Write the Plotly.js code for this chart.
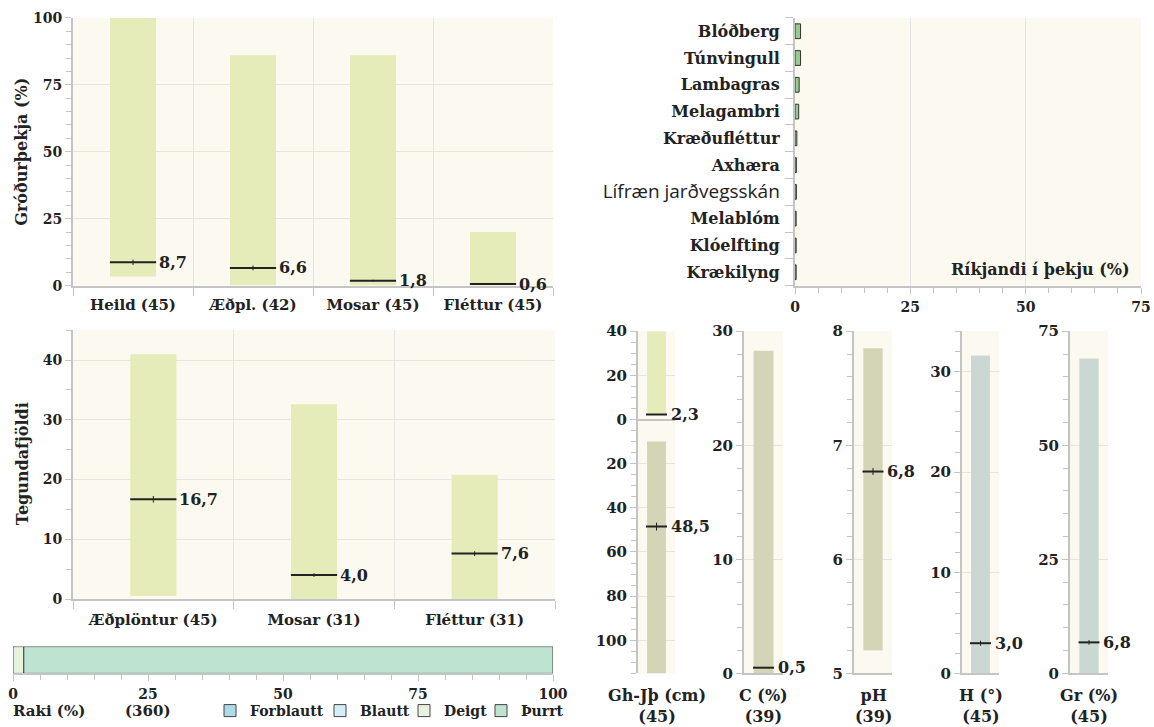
<!DOCTYPE html>
<html><head><meta charset="utf-8">
<script src="https://cdn.plot.ly/plotly-3.0.1.min.js"></script>
<style>html,body{margin:0;padding:0;background:#fff}#chart{width:1154px;height:727px}</style>
</head><body><div id="chart"></div>
<script>
// ---------- DATA ----------
// Gróðurþekja (%)
const coverCats = ['Heild (45)', 'Æðpl. (42)', 'Mosar (45)', 'Fléttur (45)'];
const coverLow  = [3.4, 0, 0, 0];
const coverHigh = [100, 86, 86, 20];
const coverMean = [8.7, 6.6, 1.8, 0.6];
const coverSE   = [1.0, 0.9, 0.4, 0.1];

// Ríkjandi í þekju (%)
const domCats = ['Blóðberg','Túnvingull','Lambagras','Melagambri','Kræðufléttur','Axhæra','Lífræn jarðvegsskán','Melablóm','Klóelfting','Krækilyng'];
const domVals = [1.2, 1.2, 0.9, 0.8, 0.4, 0.3, 0.3, 0.25, 0.25, 0.25];
const domTicks = [0, 25, 50, 75];

// Tegundafjöldi
const richCats = ['Æðplöntur (45)', 'Mosar (31)', 'Fléttur (31)'];
const richLow  = [0.5, 0, 0];
const richHigh = [41, 32.6, 20.8];
const richMean = [16.7, 4.0, 7.6];
const richSE   = [0.55, 0.3, 0.4];

// Raki (%)
const moistCats = ['Forblautt', 'Blautt', 'Deigt', 'Þurrt'];
const moistVals = [0, 0, 2, 98];
const moistN = 360;

// Jarðvegur
const ghLabel = 'Gh-Jþ (cm)', ghN = 45;
const ghLow = 2.5, ghHigh = 40, ghMean = 2.3, ghSE = 0;        // gróðurhæð (upp)
const jpLow = 10, jpHigh = 115, jpMean = 48.5, jpSE = 1.8;       // jarðvegsþykkt (niður)
const ghTickVals = [40, 20, 0, -20, -40, -60, -80, -100];

const soilLabels = ['C (%)', 'pH', 'H (°)', 'Gr (%)'];
const soilN      = [39, 39, 45, 45];
const soilLow    = [0, 5.2, 0, 0];
const soilHigh   = [28.3, 7.85, 31.6, 69];
const soilMean   = [0.5, 6.77, 3.0, 6.8];
const soilSE     = [0, 0.03, 0.25, 0.5];
const soilRange  = [[0, 30], [5, 8], [0, 34], [0, 75]];
const soilDtick  = [10, 1, 10, 25];
const soilMinor  = [2, 0.2, 2, 5];

// ---------- STYLE ----------
const W = 1154, H = 727;
const px = v => v / W;
const py = v => 1 - v / H;
const SERIF = 'DejaVu Serif';
const INK = '#222222';
const cGreen = '#E5ECB9', cOlive = '#D4D5B6', cBlue = '#CBD7D3', cream = '#FCFAF0';
const moistColors = ['#ADDCE8', '#D4EEF8', '#E8F3DD', '#BEE3D1'];
const LINE = '#C4C4C4', GRID = '#E4E4E4';
const fmt = v => v.toFixed(1).replace('.', ',');

function ax(extra) {
  return Object.assign({showline: true, linecolor: LINE, linewidth: 2, gridcolor: GRID, gridwidth: 1,
    ticks: 'outside', tickcolor: LINE, ticklen: 6, tickwidth: 1, zeroline: false, fixedrange: true,
    tickfont: {size: 14}}, extra);
}
function minor(d) { return {dtick: d, ticks: 'outside', ticklen: 5, tickcolor: LINE, showgrid: false}; }

const traces = [];
const annotations = [];
const meanMarker = (size) => ({symbol: 'line-ew', size: size, color: INK, line: {width: 2, color: INK}});
const errBar = (arr) => ({type: 'data', array: arr, visible: true, width: 0, thickness: 1, color: INK});

// Panel 1
traces.push({type: 'bar', x: coverCats, y: coverHigh.map((h, i) => h - coverLow[i]), base: coverLow,
  width: 0.383, marker: {color: cGreen}, xaxis: 'x', yaxis: 'y', showlegend: false, hoverinfo: 'skip'});
traces.push({type: 'scatter', mode: 'markers', x: coverCats, y: coverMean, marker: meanMarker(33),
  error_y: errBar(coverSE), xaxis: 'x', yaxis: 'y', showlegend: false, hoverinfo: 'skip', cliponaxis: false});
coverMean.forEach((m, i) => annotations.push({xref: 'x', yref: 'y', x: coverCats[i], y: m, text: fmt(m),
  showarrow: false, xanchor: 'left', yanchor: 'middle', xshift: 24, font: {size: 16}}));

// Panel 2
const domTickText = domCats.map(c => c === 'Lífræn jarðvegsskán'
  ? '<span style="font-family:Open Sans;font-weight:normal;font-size:19px">' + c + '</span>' : c);
traces.push({type: 'bar', orientation: 'h', y: domCats, x: domVals, width: 0.55,
  marker: {color: '#92CC8E', line: {color: '#333', width: 1}}, xaxis: 'x2', yaxis: 'y2', showlegend: false, hoverinfo: 'skip'});

// Panel 3
traces.push({type: 'bar', x: richCats, y: richHigh.map((h, i) => h - richLow[i]), base: richLow,
  width: 0.287, marker: {color: cGreen}, xaxis: 'x3', yaxis: 'y3', showlegend: false, hoverinfo: 'skip'});
traces.push({type: 'scatter', mode: 'markers', x: richCats, y: richMean, marker: meanMarker(33),
  error_y: errBar(richSE), xaxis: 'x3', yaxis: 'y3', showlegend: false, hoverinfo: 'skip'});
richMean.forEach((m, i) => annotations.push({xref: 'x3', yref: 'y3', x: richCats[i], y: m, text: fmt(m),
  showarrow: false, xanchor: 'left', yanchor: 'middle', xshift: 24, font: {size: 16}}));

// Bottom moisture bar
let cum = 0;
moistCats.forEach((c, i) => {
  traces.push({type: 'bar', orientation: 'h', y: [0], x: [moistVals[i]], base: [cum], width: 1, name: c,
    marker: {color: moistColors[i], line: {color: '#444', width: 1}}, xaxis: 'x4', yaxis: 'y4',
    legend: i === 0 ? 'legend' : 'legend' + (i + 1), hoverinfo: 'skip'});
  cum += moistVals[i];
});

// Soil: Gh-Jþ
traces.push({type: 'bar', x: [0], y: [ghHigh - ghLow], base: [ghLow], width: 0.51, marker: {color: cGreen},
  xaxis: 'x5', yaxis: 'y5', showlegend: false, hoverinfo: 'skip'});
traces.push({type: 'bar', x: [0], y: [jpHigh - jpLow], base: [-jpHigh], width: 0.51, marker: {color: cOlive},
  xaxis: 'x5', yaxis: 'y5', showlegend: false, hoverinfo: 'skip'});
traces.push({type: 'scatter', mode: 'markers', x: [0, 0], y: [ghMean, -jpMean], marker: meanMarker(15),
  error_y: errBar([ghSE, jpSE]), xaxis: 'x5', yaxis: 'y5', showlegend: false, hoverinfo: 'skip'});
[[ghMean, ghMean], [-jpMean, jpMean]].forEach(([yv, lab]) => annotations.push({xref: 'x5', yref: 'y5', x: 0, y: yv,
  text: fmt(lab), showarrow: false, xanchor: 'left', yanchor: 'middle', xshift: 12, font: {size: 16}}));

// Soil: others
const soilX = [[744, 783], [854, 892], [962, 999], [1070, 1108]];
const layoutSoil = {};
soilLabels.forEach((lab, i) => {
  const n = i + 6;
  traces.push({type: 'bar', x: [0], y: [soilHigh[i] - soilLow[i]], base: [soilLow[i]], width: 0.51,
    marker: {color: i < 2 ? cOlive : cBlue}, xaxis: 'x' + n, yaxis: 'y' + n, showlegend: false, hoverinfo: 'skip'});
  traces.push({type: 'scatter', mode: 'markers', x: [0], y: [soilMean[i]], marker: meanMarker(15),
    error_y: errBar([soilSE[i]]), xaxis: 'x' + n, yaxis: 'y' + n, showlegend: false, hoverinfo: 'skip', cliponaxis: false});
  annotations.push({xref: 'x' + n, yref: 'y' + n, x: 0, y: soilMean[i], text: fmt(soilMean[i]),
    showarrow: false, xanchor: 'left', yanchor: 'middle', xshift: 12, font: {size: 16}});
  annotations.push({xref: 'x' + n + ' domain', yref: 'paper', x: 0.5, y: py(690), xanchor: 'center', yanchor: 'top',
    text: lab + '<br>(' + soilN[i] + ')', showarrow: false, font: {size: 16}});
  layoutSoil['xaxis' + n] = ax({domain: [px(soilX[i][0]), px(soilX[i][1])], anchor: 'y' + n, range: [-0.5, 0.5],
    showticklabels: false, ticks: '', showgrid: false});
  layoutSoil['yaxis' + n] = ax({domain: [py(679), py(334)], anchor: 'x' + n, range: soilRange[i],
    dtick: soilDtick[i], minor: minor(soilMinor[i]), showgrid: true, tickfont: {size: 15}});
});
annotations.push({xref: 'x5 domain', yref: 'paper', x: 0.5, y: py(690), xanchor: 'center', yanchor: 'top',
  text: ghLabel + '<br>(' + ghN + ')', showarrow: false, font: {size: 16}});

// Titles / texts
annotations.push({xref: 'paper', yref: 'paper', x: px(22), y: py(153), xanchor: 'center', yanchor: 'middle',
  text: 'Gróðurþekja (%)', textangle: -90, showarrow: false, font: {size: 16}});
annotations.push({xref: 'paper', yref: 'paper', x: px(22), y: py(468), xanchor: 'center', yanchor: 'middle',
  text: 'Tegundafjöldi', textangle: -90, showarrow: false, font: {size: 16}});
annotations.push({xref: 'x2 domain', yref: 'paper', x: 0.975, y: py(272), xanchor: 'right', yanchor: 'middle',
  text: 'Ríkjandi í þekju (%)', showarrow: false, font: {size: 16}});
annotations.push({xref: 'paper', yref: 'paper', x: px(11), y: py(717), xanchor: 'left', yanchor: 'middle',
  text: 'Raki (%)', showarrow: false, font: {size: 15}});
annotations.push({xref: 'paper', yref: 'paper', x: px(148), y: py(717), xanchor: 'center', yanchor: 'middle',
  text: '(' + moistN + ')', showarrow: false, font: {size: 15}});

const legendX = [210, 320, 404, 481];
const legends = {};
legendX.forEach((lx, i) => {
  legends[i === 0 ? 'legend' : 'legend' + (i + 1)] = {x: px(lx), y: py(717), xanchor: 'left', yanchor: 'middle',
    orientation: 'h', bgcolor: 'rgba(0,0,0,0)', font: {size: 14}, itemclick: false, itemdoubleclick: false};
});

const layout = Object.assign({
  width: W, height: H, margin: {l: 0, r: 0, t: 0, b: 0}, paper_bgcolor: '#fff', plot_bgcolor: cream,
  font: {family: SERIF, weight: 'bold', color: INK, size: 15},
  barmode: 'overlay', showlegend: true,
  xaxis: ax({domain: [px(73), px(553)], anchor: 'y', type: 'category', tickson: 'boundaries', ticklen: 8,
    showgrid: true, range: [-0.5, 3.5], tickfont: {size: 15}, ticklabelstandoff: 4}),
  yaxis: ax({domain: [py(288), py(18)], anchor: 'x', range: [0, 100], dtick: 25, minor: minor(5)}),
  xaxis2: ax({domain: [px(795), px(1141)], anchor: 'y2', range: [0, 75], tickvals: domTicks, minor: minor(5),
    showgrid: true, ticklabelstandoff: 2}),
  yaxis2: ax({domain: [py(288), py(18)], anchor: 'x2', type: 'category', autorange: 'reversed', tickson: 'boundaries',
    ticklen: 8, showgrid: false, tickvals: domCats, ticktext: domTickText, tickfont: {size: 16}, ticklabelstandoff: 10}),
  xaxis3: ax({domain: [px(73), px(555)], anchor: 'y3', type: 'category', tickson: 'boundaries', ticklen: 8,
    showgrid: true, range: [-0.5, 2.5], tickfont: {size: 15}, ticklabelstandoff: 6}),
  yaxis3: ax({domain: [py(604), py(333)], anchor: 'x3', range: [0, 45], dtick: 10, minor: minor(5)}),
  xaxis4: ax({domain: [px(13), px(553)], anchor: 'y4', range: [0, 100], dtick: 25, minor: minor(5), showgrid: false,
    ticklabelstandoff: 1}),
  yaxis4: {domain: [py(679), py(652)], anchor: 'x4', range: [-0.5, 0.5], visible: false, fixedrange: true},
  xaxis5: ax({domain: [px(638), px(675)], anchor: 'y5', range: [-0.5, 0.5], showticklabels: false, ticks: '',
    showgrid: false, showline: false}),
  yaxis5: ax({domain: [py(679), py(334)], anchor: 'x5', range: [-115, 40], tickvals: ghTickVals,
    ticktext: ghTickVals.map(v => String(Math.abs(v))), showgrid: true, zeroline: true, zerolinecolor: LINE, zerolinewidth: 2,
    tickfont: {size: 15}, minor: Object.assign(minor(5), {tickmode: 'linear', tick0: 0})}),
  annotations: annotations
}, layoutSoil, legends);

Plotly.newPlot('chart', traces, layout, {displayModeBar: false, staticPlot: true});
</script>
</body></html>
